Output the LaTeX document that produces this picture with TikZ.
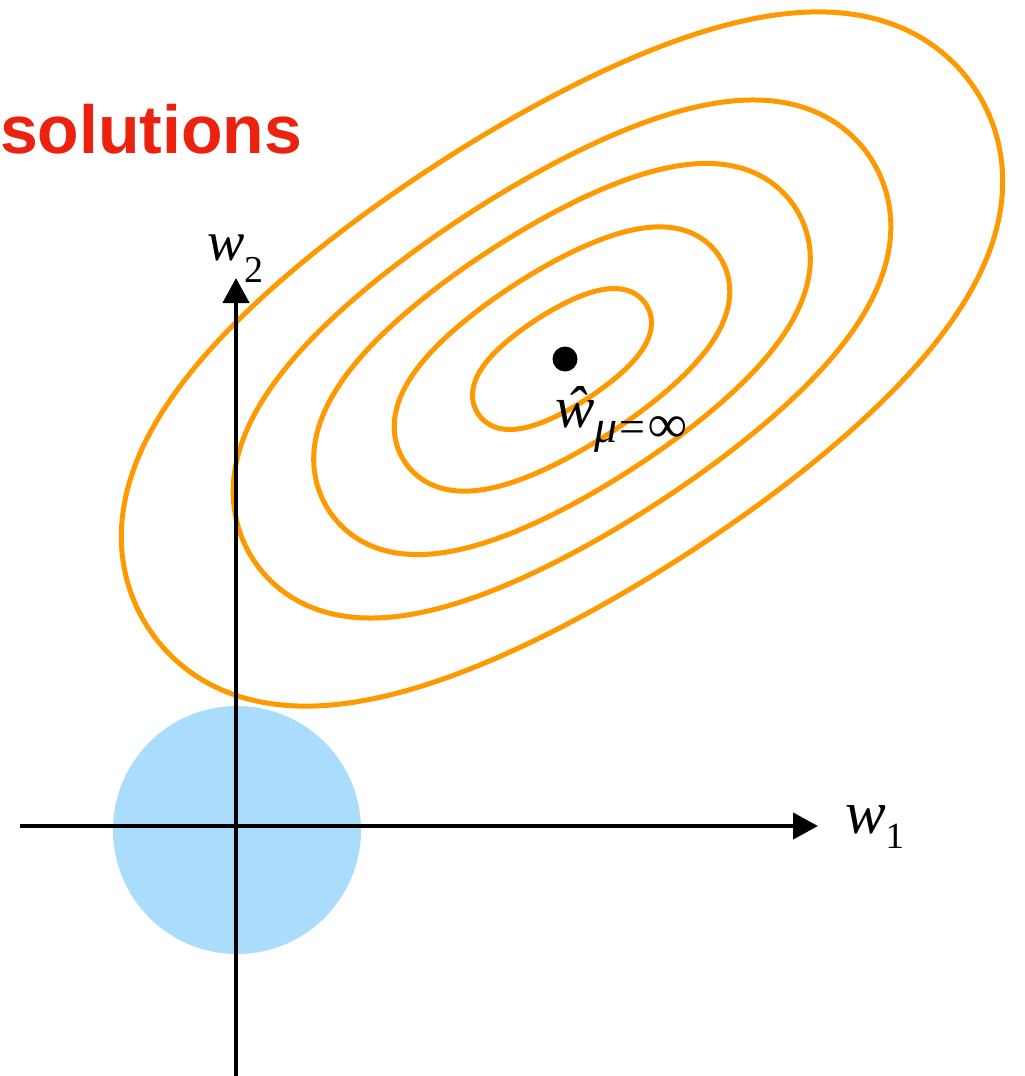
\documentclass[tikz,border=0pt]{standalone}
\usepackage{fontspec}
\setmainfont{Liberation Serif}
\newfontfamily\headfont{Liberation Sans}
\usetikzlibrary{arrows.meta}
\definecolor{contourorange}{RGB}{255,153,0}
\definecolor{ballblue}{RGB}{170,221,252}
\definecolor{titlered}{RGB}{235,34,16}
\begin{document}
\begin{tikzpicture}[x=1pt,y=-1pt,
  contour/.style={draw=contourorange, line width=5pt, line join=round},
  axisline/.style={line width=4.5pt, -{Triangle[length=25pt,width=26pt]}},
  lbl/.style={inner sep=0pt, outer sep=0pt, anchor=base west},
  declare function={
    cu(\t)=(cos(\t)-0.025*cos(3*\t))/0.975;
    sv(\t)=(sin(\t)+0.025*sin(3*\t))/0.975;
  }]
\useasboundingbox (0,0) rectangle (1025,1076);
\coordinate (c) at (562,359);
\coordinate (ballc) at (237,830);
\fill[ballblue] (ballc) circle [radius=124];
\foreach \s in {0.2,0.375,0.555,0.735,0.985}
  \draw[contour] plot[smooth cycle, variable=\t, domain=0:357, samples=120]
    ({562 + \s*(501*cu(\t)*0.8387 + 235*sv(\t)*0.5446)},
     {359 + \s*(-501*cu(\t)*0.5446 + 235*sv(\t)*0.8387)});
\coordinate (xs) at (20,826);
\coordinate (xe) at (818,826);
\coordinate (ys) at (236,1080);
\coordinate (ye) at (236,278);
\draw[axisline] (xs) -- (xe);
\draw[axisline] (ys) -- (ye);
\node[circle, fill=black, minimum size=25pt, inner sep=0pt] (dot) at (565,359) {};
\node[lbl] (w1) at (845,833) {\fontsize{61}{61}\selectfont\itshape w\raisebox{-15pt}{\fontsize{37}{37}\selectfont\upshape 1}};
\node[lbl] (w2) at (207,260) {\fontsize{56}{56}\selectfont\itshape w\raisebox{-22pt}{\fontsize{38}{38}\selectfont\upshape 2}};
\node[lbl] (what) at (555,427) {\fontsize{59}{59}\selectfont\itshape ŵ\raisebox{-15pt}{\fontsize{46}{46}\selectfont{\itshape μ}\kern2pt{\upshape =}\kern3pt{\fontsize{54}{54}\selectfont ∞}}};
\node[lbl, text=titlered, font=\headfont\bfseries\fontsize{68}{68}\selectfont] (title) at (0,153) {solutions};
\end{tikzpicture}
\end{document}
